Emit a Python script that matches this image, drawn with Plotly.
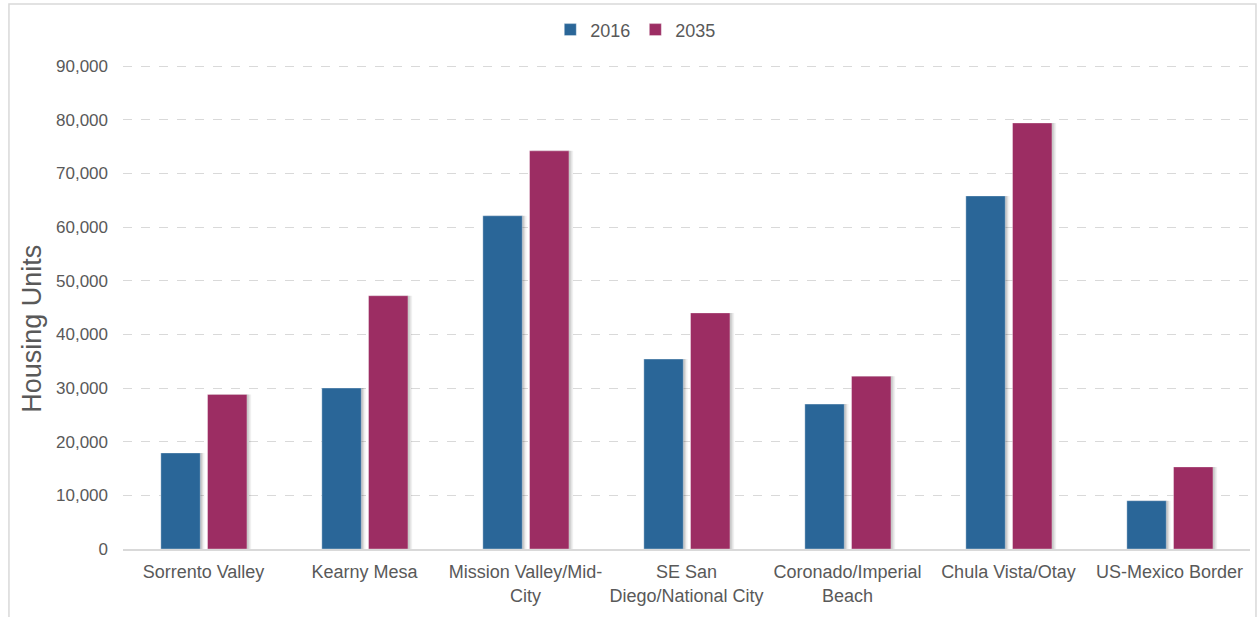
import plotly.graph_objects as go

categories = ["Sorrento Valley", "Kearny Mesa", "Mission Valley/Mid-<br>City",
              "SE San<br>Diego/National City", "Coronado/Imperial<br>Beach",
              "Chula Vista/Otay", "US-Mexico Border"]
units_2016 = [17900, 30000, 62100, 35400, 27000, 65800, 9000]
units_2035 = [28800, 47200, 74200, 44000, 32200, 79400, 15300]
y_ticks = [0, 10000, 20000, 30000, 40000, 50000, 60000, 70000, 80000, 90000]

BAR_W = 0.245
OFF = {"2016": -0.265, "2035": 0.025}
COL = {"2016": "#2A6698", "2035": "#9C2D63"}
series = {"2016": units_2016, "2035": units_2035}

fig = go.Figure()
# soft drop shadows
for name, vals in series.items():
    for shift, alpha in [(0.026, 0.06), (0.016, 0.09), (0.008, 0.12)]:
        fig.add_trace(go.Bar(x=categories, y=vals, width=BAR_W, offset=OFF[name] + shift,
                             marker=dict(color=f"rgba(0,0,0,{alpha})", line=dict(width=0)),
                             showlegend=False, hoverinfo="skip"))
for name, vals in series.items():
    fig.add_trace(go.Bar(name=name, x=categories, y=vals, width=BAR_W, offset=OFF[name],
                         marker=dict(color=COL[name], line=dict(color="rgba(255,255,255,0.35)", width=1))))

fig.update_layout(
    width=1259, height=617,
    margin=dict(l=123, r=9, t=65, b=68),
    paper_bgcolor="white", plot_bgcolor="white",
    barmode="overlay",
    font=dict(family="Arial, Liberation Sans, sans-serif", color="#595959"),
    legend=dict(orientation="h", x=0.455, xanchor="center", y=1.0725, yanchor="middle",
                font=dict(size=18, color="#595959"), traceorder="normal",
                itemwidth=30),
    showlegend=True,
    shapes=[dict(type="rect", xref="paper", yref="paper",
                 x0=-0.1012, x1=1.0053, y0=-0.16, y1=1.126,
                 line=dict(color="#D9D9D9", width=1.5), fillcolor="rgba(0,0,0,0)", layer="below")],
    annotations=[dict(text="Housing Units", xref="paper", yref="paper",
                      x=-0.0807, y=0.455, xanchor="center", yanchor="middle",
                      textangle=-90, showarrow=False,
                      font=dict(size=27, color="#595959"))],
)
fig.update_yaxes(range=[0, 90200], tickvals=y_ticks, tickformat=",",
                 showgrid=True, gridcolor="#D9D9D9", griddash="dash", gridwidth=1,
                 zeroline=False, showline=False,
                 tickfont=dict(size=17, color="#595959"), ticklabelstandoff=14)
fig.update_xaxes(showline=True, linecolor="#D9D9D9", linewidth=1.5,
                 tickfont=dict(size=18, color="#595959"), ticks="", ticklabelstandoff=6)

fig.write_html("out.html")
